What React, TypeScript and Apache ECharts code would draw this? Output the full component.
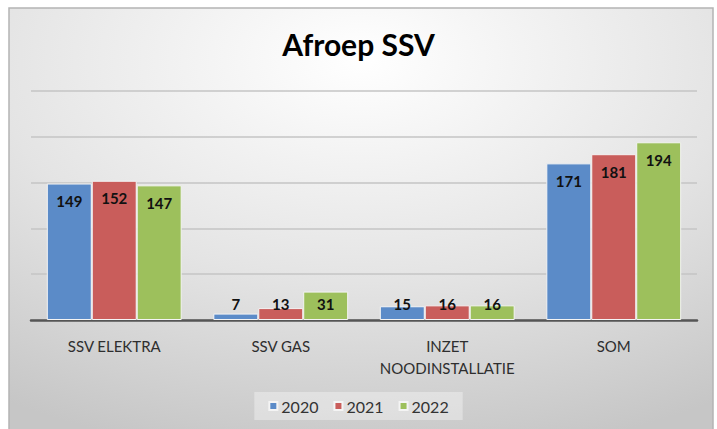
import React, { useEffect, useRef } from "react";
import * as echarts from "echarts";

const categories = ["SSV ELEKTRA", "SSV GAS", "INZET\nNOODINSTALLATIE", "SOM"];
const years = ["2020", "2021", "2022"];
const values2020 = [149, 7, 15, 171];
const values2021 = [152, 13, 16, 181];
const values2022 = [147, 31, 16, 194];
const colors = ["#5B8BC8", "#C95D5B", "#9DC05C"];
const titleText = "Afroep SSV";

const FONT = "Lato, 'Open Sans', sans-serif";

function makeData(vals: number[]) {
  return vals.map((v) => {
    const small = v < 41;
    return {
      value: v,
      label: small
        ? { position: "insideBottom", distance: 9 }
        : { position: "insideTop", distance: 10 },
    };
  });
}

export default function App() {
  const ref = useRef<HTMLDivElement>(null);
  useEffect(() => {
    if (!ref.current) return;
    const chart = echarts.init(ref.current, undefined, { renderer: "svg" });
    const seriesVals = [values2020, values2021, values2022];
    chart.setOption({
      animation: false,
      graphic: [
        {
          type: "rect",
          z: -10,
          silent: true,
          shape: { x: 9, y: 8, width: 704, height: 425 },
          style: {
            fill: new echarts.graphic.RadialGradient(0.5, 0.12, 0.95, [
              { offset: 0, color: "#ffffff" },
              { offset: 0.55, color: "#e4e4e4" },
              { offset: 1, color: "#c6c6c6" },
            ]),
            stroke: "#b4b4b4",
            lineWidth: 1.5,
          },
        },
      ],
      title: {
        text: titleText,
        left: "center",
        top: 24,
        textStyle: {
          fontFamily: FONT,
          fontWeight: "bold",
          fontSize: 30,
          color: "#000000",
        },
      },
      legend: {
        data: years,
        bottom: 9,
        left: "center",
        itemWidth: 8,
        itemHeight: 8,
        itemGap: 15,
        icon: "rect",
        padding: [6, 14],
        backgroundColor: "rgba(255,255,255,0.35)",
        textStyle: { fontFamily: FONT, fontSize: 16, color: "#333333", padding: [0, 0, 0, -1] },
      },
      grid: { left: 31, right: 20, top: 91, bottom: 109, containLabel: false },
      xAxis: {
        type: "category",
        data: categories,
        axisTick: { show: false },
        axisLine: { lineStyle: { color: "#555555", width: 2.5 } },
        axisLabel: {
          fontFamily: FONT,
          fontSize: 15,
          color: "#2e2e2e",
          margin: 15,
          lineHeight: 22,
          interval: 0,
        },
      },
      yAxis: {
        type: "value",
        min: 0,
        max: 250,
        interval: 50,
        axisLabel: { show: false },
        axisLine: { show: false },
        axisTick: { show: false },
        splitLine: { lineStyle: { color: "#c4c4c4", width: 1.5 } },
      },
      series: years.map((y, i) => ({
        name: y,
        type: "bar",
        data: makeData(seriesVals[i]),
        barGap: "0%",
        barCategoryGap: "19%",
        itemStyle: { color: colors[i], borderColor: "#f4f4f4", borderWidth: 1 },
        label: {
          show: true,
          fontFamily: FONT,
          fontWeight: "bold",
          fontSize: 15,
          color: "#111111",
        },
      })),
    });
    return () => chart.dispose();
  }, []);
  return (
    <div
      ref={ref}
      style={{ position: "absolute", left: 0, top: 0, width: 717, height: 429, background: "#ffffff" }}
    />
  );
}
